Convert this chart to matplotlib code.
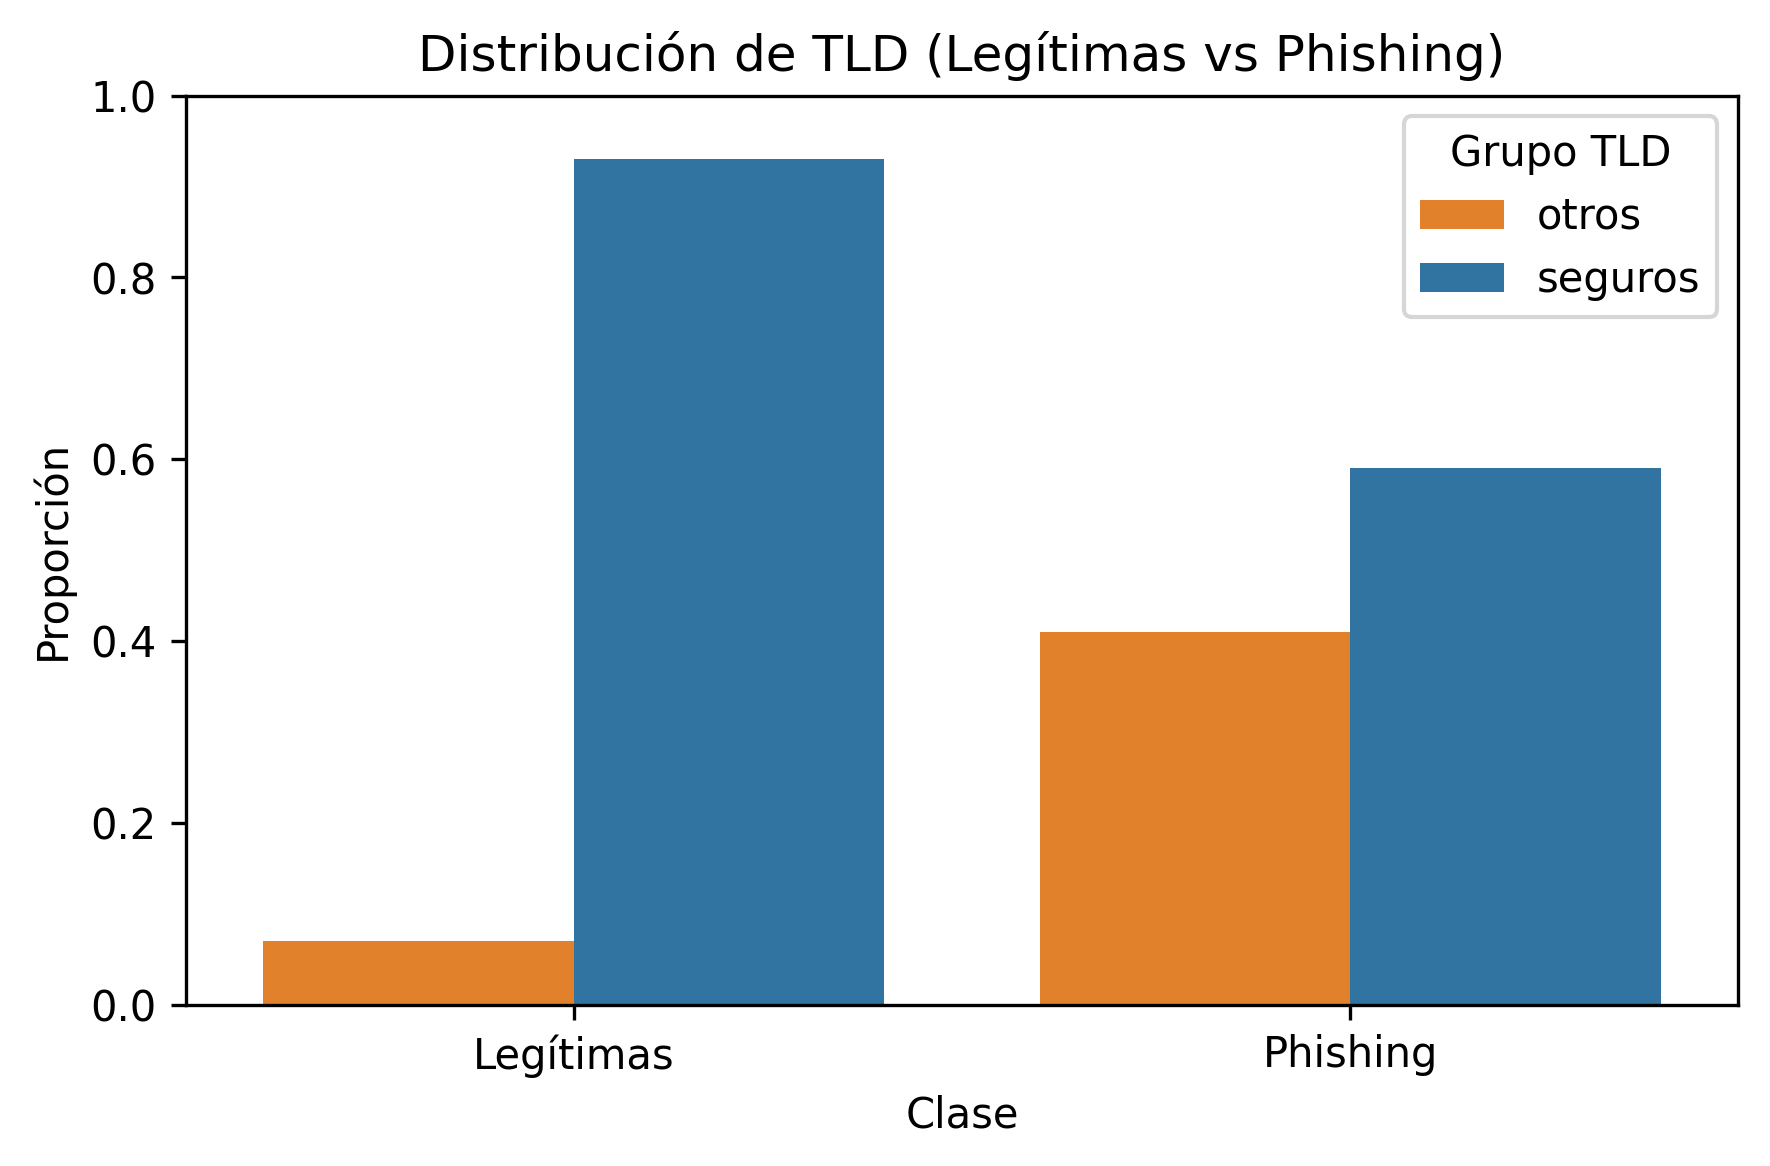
import numpy as np
import pandas as pd
import matplotlib
matplotlib.use('Agg')
import matplotlib.pyplot as plt
import seaborn as sns

# datos
clases = ['Legítimas', 'Legítimas', 'Phishing', 'Phishing']
grupos = ['otros', 'seguros', 'otros', 'seguros']
proporciones = [0.07, 0.93, 0.41, 0.59]

df = pd.DataFrame({'Clase': clases, 'Grupo TLD': grupos, 'Proporción': proporciones})

fig, ax = plt.subplots(figsize=(5.9, 3.887))
sns.barplot(data=df, x='Clase', y='Proporción', hue='Grupo TLD',
            hue_order=['otros', 'seguros'],
            palette={'otros': 'tab:orange', 'seguros': 'tab:blue'}, ax=ax)

ax.set_title('Distribución de TLD (Legítimas vs Phishing)')
ax.set_ylim(0, 1)
ax.legend(title='Grupo TLD')

plt.subplots_adjust(left=0.105, right=0.982, top=0.918, bottom=0.138)
plt.savefig('out.png', dpi=300)
